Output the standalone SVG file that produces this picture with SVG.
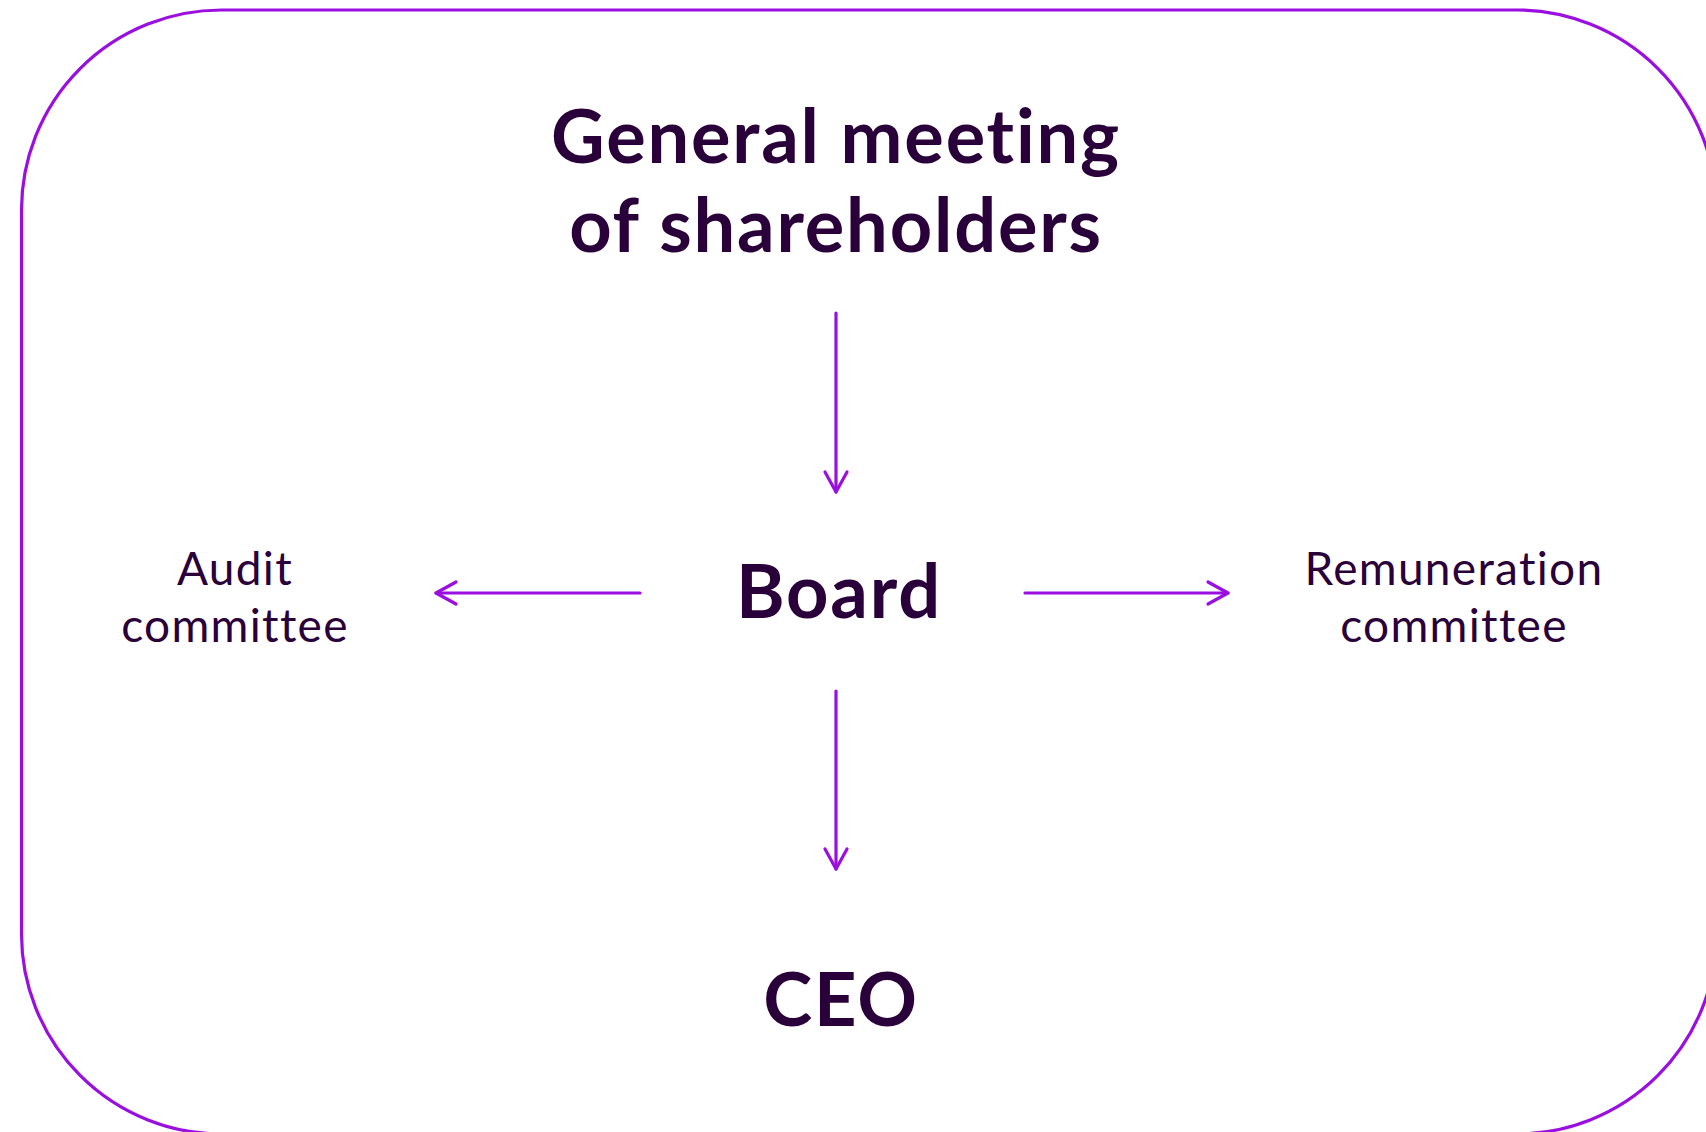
<svg xmlns="http://www.w3.org/2000/svg" width="1706" height="1132" viewBox="0 0 1706 1132">
<style>
.t{font-family:Lato,"Noto Sans",sans-serif;fill:#2a003b;text-anchor:middle;font-variant-ligatures:none;font-feature-settings:"liga" 0,"clig" 0,"dlig" 0}
.big{font-size:74px;font-weight:700;letter-spacing:1.8px}
.small{font-size:46px;font-weight:400;letter-spacing:1.3px}
.c{stroke:#9a0fe0;stroke-width:3.2;fill:none;stroke-linecap:round}
</style>
<defs>
<marker id="ah" markerUnits="userSpaceOnUse" markerWidth="30" markerHeight="30" refX="0" refY="0" viewBox="-25 -15 30 30" orient="auto" overflow="visible">
<path d="M-20,-11 L0,0 L-20,11" fill="none" stroke="#9a0fe0" stroke-width="3.2" stroke-linecap="round" stroke-linejoin="round"/>
</marker>
</defs>
<rect x="21.5" y="10" width="1695" height="1124" rx="200" ry="200" fill="none" stroke="#9a0fe0" stroke-width="3.2"/>
<g id="gm"><text class="t big" x="836" y="163">General meeting</text><text class="t big" x="836" y="252">of shareholders</text></g>
<g id="board"><text class="t big" x="839" y="618">Board</text></g>
<g id="ceo"><text class="t big" x="841" y="1026">CEO</text></g>
<g id="audit"><text class="t small" x="235" y="585">Audit</text><text class="t small" x="235" y="642">committee</text></g>
<g id="rem"><text class="t small" x="1454" y="585">Remuneration</text><text class="t small" x="1454" y="642">committee</text></g>
<g id="connectors">
<line class="c" x1="836" y1="313" x2="836" y2="492" marker-end="url(#ah)"/>
<line class="c" x1="836" y1="691" x2="836" y2="869" marker-end="url(#ah)"/>
<line class="c" x1="640" y1="593" x2="436" y2="593" marker-end="url(#ah)"/>
<line class="c" x1="1025" y1="593" x2="1228" y2="593" marker-end="url(#ah)"/>
</g>
</svg>
